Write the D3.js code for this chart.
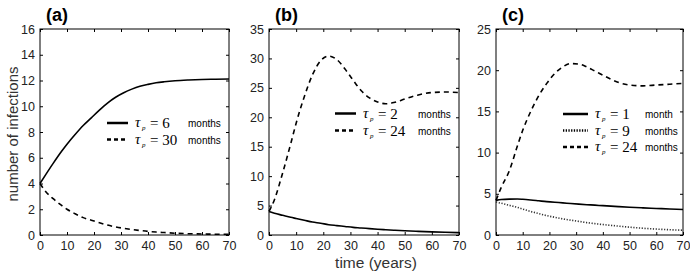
<!DOCTYPE html>
<html>
<head>
<meta charset="utf-8">
<script src="https://cdn.jsdelivr.net/npm/d3@7"></script>
<style>
  body { margin: 0; background: #fff; }
  svg { display: block; font-family: "Liberation Sans", Arial, sans-serif; }
  .tick text { fill: #222; }
</style>
</head>
<body>
<svg id="chart" width="690" height="274"></svg>
<script>
// x values shared by all curves (years)
const years = [0, 2, 5, 8, 10, 13, 16, 19, 22, 25, 28, 31, 34, 37, 40, 43, 46, 50, 55, 60, 65, 70];
const xTicks = [0, 10, 20, 30, 40, 50, 60, 70];

// panel (a)
const aTau6 = [4, 4.65, 5.6, 6.5, 7.05, 7.8, 8.5, 9.1, 9.7, 10.25, 10.7, 11.05, 11.33, 11.55, 11.7, 11.82, 11.9, 11.98, 12.04, 12.08, 12.1, 12.12];
const aTau30 = [4, 3.4, 2.8, 2.3, 2.0, 1.65, 1.35, 1.15, 0.95, 0.77, 0.63, 0.52, 0.43, 0.35, 0.28, 0.23, 0.19, 0.14, 0.1, 0.08, 0.06, 0.05];
const aTicks = [0, 2, 4, 6, 8, 10, 12, 14, 16];

// panel (b)
const bTau2 = [4, 3.7, 3.35, 3.0, 2.8, 2.5, 2.2, 2.0, 1.75, 1.6, 1.45, 1.3, 1.2, 1.08, 0.98, 0.9, 0.82, 0.72, 0.62, 0.53, 0.46, 0.4];
const bTau24 = [4, 6, 10.5, 15.5, 19, 23.5, 27.2, 29.6, 30.4, 29.8, 28.2, 26.3, 24.5, 23.3, 22.6, 22.3, 22.5, 23.1, 23.8, 24.2, 24.3, 24.2];
const bTicks = [0, 5, 10, 15, 20, 25, 30, 35];

// panel (c)
const cTau1 = [4.2, 4.3, 4.35, 4.36, 4.33, 4.25, 4.15, 4.05, 3.97, 3.9, 3.82, 3.75, 3.68, 3.62, 3.56, 3.5, 3.44, 3.37, 3.29, 3.22, 3.16, 3.1];
const cTau9 = [4.0, 3.85, 3.6, 3.35, 3.15, 2.85, 2.6, 2.35, 2.15, 1.95, 1.8, 1.65, 1.5, 1.38, 1.27, 1.17, 1.07, 0.95, 0.82, 0.72, 0.64, 0.58];
const cTau24 = [4.2, 5.8, 7.8, 10.8, 12.7, 15.0, 16.9, 18.4, 19.6, 20.4, 20.8, 20.75, 20.4, 19.9, 19.4, 18.9, 18.5, 18.2, 18.1, 18.2, 18.3, 18.4];
const cTicks = [0, 5, 10, 15, 20, 25];

const svg = d3.select("#chart");

const panels = [
  { label: "(a)", left: 40, right: 229, yMax: 16, yTicks: aTicks,
    series: [
      { values: aTau6, dash: null, tau: "6", unit: "months" },
      { values: aTau30, dash: "5,4", tau: "30", unit: "months" }
    ],
    legend: { x: 107, y: 123, dy: 16.5, len: 21, unitX: 188 } },
  { label: "(b)", left: 269, right: 459, yMax: 35, yTicks: bTicks,
    series: [
      { values: bTau2, dash: null, tau: "2", unit: "months" },
      { values: bTau24, dash: "5,4", tau: "24", unit: "months" }
    ],
    legend: { x: 335, y: 113.5, dy: 17, len: 21, unitX: 418 } },
  { label: "(c)", left: 496, right: 683, yMax: 25, yTicks: cTicks,
    series: [
      { values: cTau1, dash: null, tau: "1", unit: "month" },
      { values: cTau9, dash: "1.2,1.6", tau: "9", unit: "months", dots: true },
      { values: cTau24, dash: "5,4", tau: "24", unit: "months" }
    ],
    legend: { x: 563, y: 114, dy: 16.5, len: 25, unitX: 645 } }
];

const plotTop = 29, plotBottom = 235;

panels.forEach((p) => {
  const x = d3.scaleLinear().domain([0, 70]).range([p.left, p.right]);
  const y = d3.scaleLinear().domain([0, p.yMax]).range([plotBottom, plotTop]);
  const g = svg.append("g");

  // box
  g.append("rect")
    .attr("x", p.left).attr("y", plotTop)
    .attr("width", p.right - p.left).attr("height", plotBottom - plotTop)
    .attr("fill", "none").attr("stroke", "#000").attr("stroke-width", 1);

  // axes (ticks pointing inward, MATLAB style)
  const bx = g.append("g").attr("transform", `translate(0,${plotBottom})`)
    .call(d3.axisBottom(x).tickValues(xTicks).tickSizeInner(-3).tickSizeOuter(0).tickPadding(6));
  const tx = g.append("g").attr("transform", `translate(0,${plotTop})`)
    .call(d3.axisTop(x).tickValues(xTicks).tickSizeInner(-3).tickSizeOuter(0).tickFormat(""));
  const ly = g.append("g").attr("transform", `translate(${p.left},0)`)
    .call(d3.axisLeft(y).tickValues(p.yTicks).tickSizeInner(-3).tickSizeOuter(0).tickPadding(5));
  const ry = g.append("g").attr("transform", `translate(${p.right},0)`)
    .call(d3.axisRight(y).tickValues(p.yTicks).tickSizeInner(-3).tickSizeOuter(0).tickFormat(""));
  [bx, tx, ly, ry].forEach((a) => {
    a.select(".domain").remove();
    a.selectAll("text").attr("font-size", "12.5px").attr("font-family", "Liberation Sans, Arial, sans-serif");
  });

  // panel label
  g.append("text")
    .attr("x", p.left + 6).attr("y", 21)
    .attr("font-size", "18px").attr("font-weight", "bold")
    .text(p.label);

  // curves
  const line = d3.line()
    .x((d, i) => x(years[i]))
    .y((d) => y(d))
    .curve(d3.curveMonotoneX);
  p.series.forEach((s) => {
    g.append("path")
      .datum(s.values)
      .attr("fill", "none")
      .attr("stroke", s.dots ? "#333" : "#000")
      .attr("stroke-width", 1.6)
      .attr("stroke-dasharray", s.dash)
      .attr("d", line);
  });

  // legend
  p.series.forEach((s, i) => {
    const ry0 = p.legend.y + i * p.legend.dy;
    g.append("line")
      .attr("x1", p.legend.x).attr("x2", p.legend.x + p.legend.len)
      .attr("y1", ry0).attr("y2", ry0)
      .attr("stroke", "#000").attr("stroke-width", 2.5)
      .attr("stroke-dasharray", s.dash ? (s.dots ? "1.3,1.4" : "4,3") : null);
    const tx0 = p.legend.x + p.legend.len + 7;
    g.append("text")
      .attr("x", tx0).attr("y", ry0 + 4)
      .attr("font-family", "Liberation Serif, Times New Roman, serif")
      .attr("font-style", "italic")
      .attr("font-size", "15px")
      .text("\u03C4");
    g.append("text")
      .attr("x", tx0 + 7).attr("y", ry0 + 7)
      .attr("font-family", "Liberation Serif, Times New Roman, serif")
      .attr("font-style", "italic")
      .attr("font-size", "7px")
      .text("p");
    g.append("text")
      .attr("x", tx0 + 15).attr("y", ry0 + 5)
      .attr("font-family", "Liberation Serif, Times New Roman, serif")
      .attr("font-size", "15px")
      .text("= " + s.tau);
    g.append("text")
      .attr("x", p.legend.unitX).attr("y", ry0 + 4)
      .attr("font-size", "10px")
      .text(s.unit);
  });
});

// axis titles
svg.append("text")
  .attr("transform", "translate(18,134) rotate(-90)")
  .attr("text-anchor", "middle")
  .attr("font-size", "15px").attr("fill", "#333")
  .text("number of infections");

svg.append("text")
  .attr("x", 376).attr("y", 268)
  .attr("text-anchor", "middle")
  .attr("font-size", "15.5px").attr("fill", "#333")
  .text("time (years)");
</script>
</body>
</html>
